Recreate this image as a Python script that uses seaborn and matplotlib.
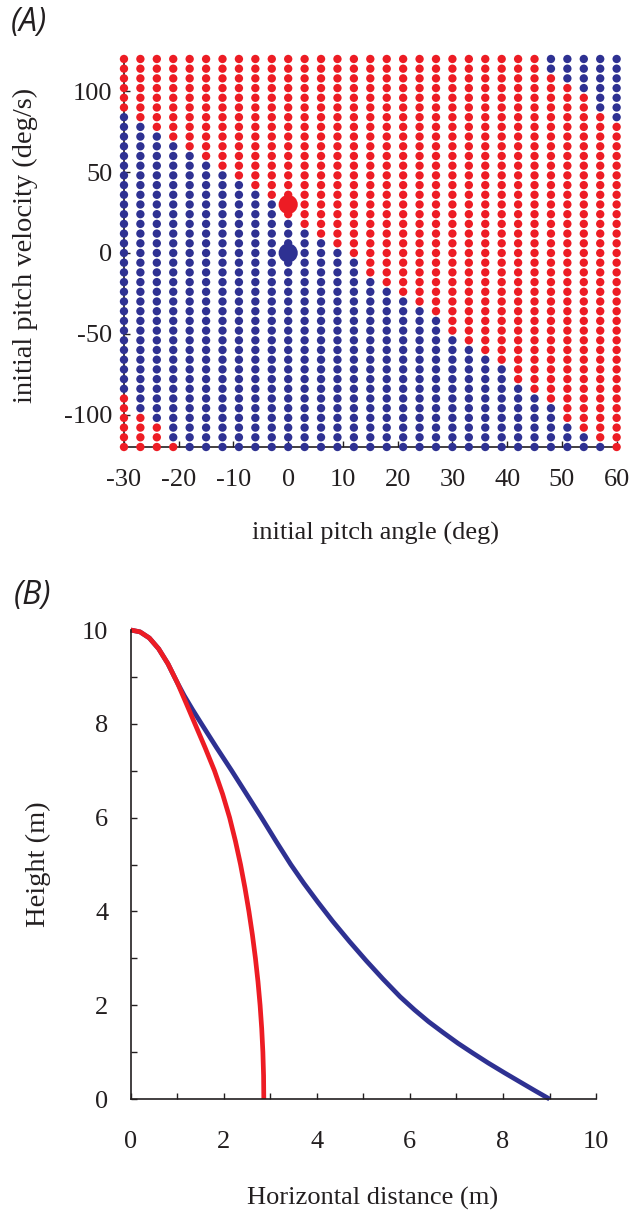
import numpy as np
import pandas as pd
import matplotlib
matplotlib.use("Agg")
import matplotlib.pyplot as plt
import seaborn as sns

# ---------------- Panel A data ----------------
pitch_angles = list(range(-30, 61, 3))      # initial pitch angle columns (deg)
pitch_rates = list(range(-120, 121, 6))     # initial pitch velocity rows (deg/s)
# main boundary: lowest pitch velocity that is red in each column
red_from = [90, 84, 78, 72, 66, 60, 54, 48, 42, 36, 24, 18, 12, 6, 0,
            -12, -18, -24, -30, -36, -48, -54, -60, -66, -78, -84, -90,
            -102, -108, -114, -120]
# bottom-left red corner: red when velocity <= value (first columns)
red_upto = [-90, -102, -108, -120]
# top-right blue corner: blue when velocity >= value (last columns)
blue_from = [114, 108, 102, 90, 84]

marker_angle = [0, 0]
marker_rate = [30, 0]
marker_kind = ["red", "blue"]

# ---------------- Panel B data ----------------
blue_x = [0, 0.2, 0.4, 0.6, 0.8, 1.0, 1.15, 1.33, 1.52, 1.84, 2.17, 2.49, 2.81,
          3.12, 3.44, 3.72, 4.02, 4.34, 4.70, 5.06, 5.42, 5.79, 6.10, 6.40, 6.71,
          7.03, 7.35, 7.68, 8.03, 8.39, 8.70, 9.0]
blue_y = [10, 9.96, 9.83, 9.6, 9.28, 8.88, 8.6, 8.3, 8.0, 7.5, 7.0, 6.5, 6.0,
          5.5, 5.0, 4.6, 4.2, 3.79, 3.36, 2.95, 2.56, 2.18, 1.90, 1.65, 1.42,
          1.19, 0.98, 0.77, 0.56, 0.35, 0.17, 0.0]
red_x = [0, 0.2, 0.4, 0.6, 0.8, 1.0, 1.2, 1.38, 1.595, 1.80, 1.975, 2.125, 2.25,
         2.36, 2.455, 2.54, 2.615, 2.68, 2.735, 2.78, 2.815, 2.84, 2.855, 2.86]
red_y = [10, 9.96, 9.83, 9.6, 9.28, 8.88, 8.42, 8.0, 7.5, 7.0, 6.5, 6.0, 5.5,
         5.0, 4.5, 4.0, 3.5, 3.0, 2.5, 2.0, 1.5, 1.0, 0.5, 0.0]

RED = "#ED1C24"
BLUE = "#2E3192"
INK = "#231F20"

rows = []
for i, a in enumerate(pitch_angles):
    for r in pitch_rates:
        kind = "red" if r >= red_from[i] else "blue"
        if i < len(red_upto) and r <= red_upto[i]:
            kind = "red"
        j = i - (len(pitch_angles) - len(blue_from))
        if j >= 0 and r >= blue_from[j]:
            kind = "blue"
        rows.append((a, r, kind))
grid = pd.DataFrame(rows, columns=["angle", "rate", "kind"])
markers = pd.DataFrame({"angle": marker_angle, "rate": marker_rate, "kind": marker_kind})

sns.set_style("ticks")
plt.rcParams["font.family"] = ["Liberation Serif", "DejaVu Serif"]
plt.rcParams["axes.unicode_minus"] = False

fig = plt.figure(figsize=(6.43, 12.16), dpi=100)
palette = {"red": RED, "blue": BLUE}
FS = 19
YFS = 20.5

# ---------------- Panel A ----------------
axA = fig.add_axes([0.1928, 0.6324, 0.959 - 0.1928, 0.9515 - 0.6324])
sns.scatterplot(data=grid, x="angle", y="rate", hue="kind", palette=palette,
                s=36, linewidth=0, legend=False, ax=axA, clip_on=False, zorder=3)
sns.scatterplot(data=markers, x="angle", y="rate", hue="kind", palette=palette,
                s=190, linewidth=0, legend=False, ax=axA, clip_on=False, zorder=4)
axA.set_xlim(-30, 60)
axA.set_ylim(-120, 120)
axA.set_xticks(range(-30, 61, 10))
axA.set_yticks([-100, -50, 0, 50, 100])
axA.set_xlabel("initial pitch angle (deg)", fontsize=FS, color=INK)
axA.set_ylabel("initial pitch velocity (deg/s)", fontsize=YFS, color=INK)
axA.xaxis.set_label_coords(0.51, -0.222)
axA.xaxis.label.set_va("center")
axA.yaxis.set_label_coords(-0.201, 0.52)
axA.yaxis.label.set_va("center")

# ---------------- Panel B ----------------
axB = fig.add_axes([0.2033, 0.0962, 0.927 - 0.2033, 0.4819 - 0.0962])
curves = pd.concat([
    pd.DataFrame({"x": blue_x, "y": blue_y, "c": "blue"}),
    pd.DataFrame({"x": red_x, "y": red_y, "c": "red"}),
])
sns.lineplot(data=curves, x="x", y="y", hue="c", palette=palette, sort=False,
             estimator=None, linewidth=3.4, legend=False, ax=axB, clip_on=False)
for ln in axB.lines:
    ln.set_solid_capstyle("butt")
    ln.set_solid_joinstyle("round")
axB.set_xlim(0, 10)
axB.set_ylim(0, 10)
axB.set_xticks(range(0, 11, 2))
axB.set_xticks(range(1, 10, 2), minor=True)
axB.set_yticks(range(0, 11, 2))
axB.set_yticks(range(1, 10, 2), minor=True)
axB.set_xlabel("Horizontal distance (m)", fontsize=FS, color=INK)
axB.set_ylabel("Height (m)", fontsize=YFS, color=INK)
axB.xaxis.set_label_coords(0.52, -0.211)
axB.xaxis.label.set_va("center")
axB.yaxis.set_label_coords(-0.199, 0.50)
axB.yaxis.label.set_va("center")

for ax, xpad, ypad in [(axA, 16, 8.5), (axB, 23, 16)]:
    sns.despine(ax=ax)
    for s in ["left", "bottom"]:
        ax.spines[s].set_linewidth(1.2)
        ax.spines[s].set_color(INK)
    ax.tick_params(axis="both", which="both", direction="in", length=4, width=1,
                   color=INK, labelcolor=INK, labelsize=FS)
    ax.tick_params(axis="x", which="major", pad=xpad)
    ax.tick_params(axis="y", which="major", pad=ypad)

fig.text(0.017, 0.995, "(A)", fontsize=23, style="italic", family="Open Sans",
         va="top", ha="left", color=INK)
fig.text(0.022, 0.524, "(B)", fontsize=23, style="italic", family="Open Sans",
         va="top", ha="left", color=INK)

fig.savefig("out.png", dpi=100)
